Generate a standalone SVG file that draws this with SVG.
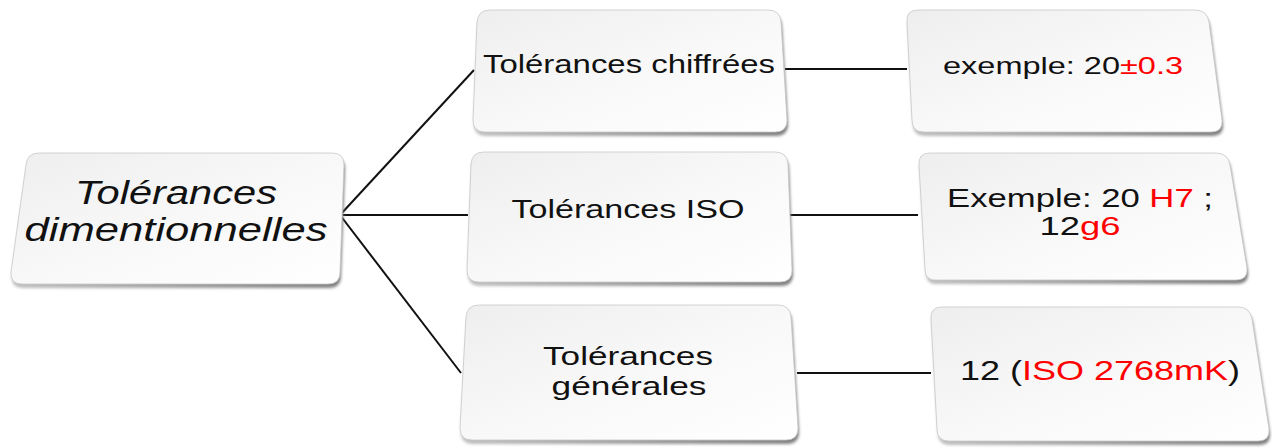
<svg xmlns="http://www.w3.org/2000/svg" xmlns:xlink="http://www.w3.org/1999/xlink" width="1272" height="448" viewBox="0 0 1272 448">
<style>
.face{fill:url(#faceGrad);stroke:#c8c8c8;stroke-width:0.8}
.shadow{fill:url(#shadowGrad);filter:url(#blur)}
.t{font-family:"Liberation Sans",Arial,sans-serif;fill:#111;text-anchor:middle}
.red{fill:#ff0000}
.conn{stroke:#111;stroke-width:2;fill:none}
</style>
<defs>
<linearGradient id="faceGrad" x1="0" y1="0" x2="1" y2="1">
<stop offset="0" stop-color="#eeeeee"/>
<stop offset="0.5" stop-color="#f8f8f8"/>
<stop offset="1" stop-color="#ffffff"/>
</linearGradient>
<linearGradient id="shadowGrad" x1="0" y1="0" x2="1" y2="0">
<stop offset="0" stop-color="#c0c0c0"/>
<stop offset="0.5" stop-color="#a0a0a0"/>
<stop offset="1" stop-color="#808080"/>
</linearGradient>
<filter id="blur" x="-5%" y="-5%" width="110%" height="115%">
<feGaussianBlur stdDeviation="1.5"/>
</filter>
<path id="p0" d="M39 153 H332 Q344 153 344 165 L340 272 Q340 284 328 284 H22 Q10 284 11 272 L26 165 Q27 153 39 153 Z"/>
<path id="p1" d="M490 10 H768 Q780 10 781 22 L787 120 Q787 132 775 132 H485 Q473 132 473 120 L477 22 Q478 10 490 10 Z"/>
<path id="p2" d="M918 10 H1195 Q1207 10 1209 22 L1222 120 Q1223 132 1211 132 H924 Q912 132 912 120 L907 22 Q906 10 918 10 Z"/>
<path id="p3" d="M484 152 H775 Q787 152 788 164 L792 270 Q792 282 780 282 H479 Q467 282 467 270 L471 164 Q472 152 484 152 Z"/>
<path id="p4" d="M930 153 H1216 Q1228 153 1230 165 L1247 268 Q1248 280 1236 280 H937 Q925 281 925 269 L919 165 Q918 153 930 153 Z"/>
<path id="p5" d="M479 305 H778 Q790 305 791 317 L798 428 Q798 440 786 440 H472 Q460 440 460 428 L466 317 Q467 305 479 305 Z"/>
<path id="p6" d="M942 307 H1238 Q1250 307 1252 319 L1269 429 Q1270 441 1258 441 H949 Q937 441 937 429 L931 319 Q930 307 942 307 Z"/>
</defs>
<rect width="1272" height="448" fill="#ffffff"/>

<g id="connectors">
<line class="conn" x1="340" y1="215" x2="474" y2="70"/>
<line class="conn" x1="340" y1="215" x2="468" y2="215"/>
<line class="conn" x1="340" y1="215" x2="461" y2="373"/>
<line class="conn" x1="785" y1="69" x2="907" y2="69"/>
<line class="conn" x1="790" y1="215" x2="918" y2="215"/>
<line class="conn" x1="797" y1="373" x2="931" y2="373"/>
</g>

<g id="root">
<use href="#p0" class="shadow" transform="translate(1,4)"/>
<use href="#p0" class="face"/>
<text class="t" x="176" y="204" font-size="33" font-style="italic" textLength="202" lengthAdjust="spacingAndGlyphs">Tolérances</text>
<text class="t" x="176" y="241" font-size="33" font-style="italic" textLength="303" lengthAdjust="spacingAndGlyphs">dimentionnelles</text>
</g>

<g id="chiffrees">
<use href="#p1" class="shadow" transform="translate(1,4)"/>
<use href="#p1" class="face"/>
<text class="t" x="629" y="73" font-size="25" textLength="292" lengthAdjust="spacingAndGlyphs">Tolérances chiffrées</text>
</g>

<g id="ex-chiffrees">
<use href="#p2" class="shadow" transform="translate(1,4)"/>
<use href="#p2" class="face"/>
<text class="t" x="1063" y="74" font-size="24" textLength="240" lengthAdjust="spacingAndGlyphs">exemple: 20<tspan class="red">±0.3</tspan></text>
</g>

<g id="iso">
<use href="#p3" class="shadow" transform="translate(1,4)"/>
<use href="#p3" class="face"/>
<text class="t" x="628" y="218" font-size="25" textLength="233" lengthAdjust="spacingAndGlyphs">Tolérances ISO</text>
</g>

<g id="ex-iso">
<use href="#p4" class="shadow" transform="translate(1,4)"/>
<use href="#p4" class="face"/>
<text class="t" x="1080" y="207" font-size="25" textLength="266" lengthAdjust="spacingAndGlyphs">Exemple: 20 <tspan class="red">H7</tspan> ;</text>
<text class="t" x="1080" y="235" font-size="25" textLength="81" lengthAdjust="spacingAndGlyphs">12<tspan class="red">g6</tspan></text>
</g>

<g id="generales">
<use href="#p5" class="shadow" transform="translate(1,4)"/>
<use href="#p5" class="face"/>
<text class="t" x="628" y="365" font-size="25" textLength="170" lengthAdjust="spacingAndGlyphs">Tolérances</text>
<text class="t" x="629" y="395" font-size="25" textLength="155" lengthAdjust="spacingAndGlyphs">générales</text>
</g>

<g id="ex-generales">
<use href="#p6" class="shadow" transform="translate(1,4)"/>
<use href="#p6" class="face"/>
<text class="t" x="1100" y="380" font-size="28" textLength="280" lengthAdjust="spacingAndGlyphs">12 (<tspan class="red">ISO 2768mK</tspan>)</text>
</g>
</svg>
